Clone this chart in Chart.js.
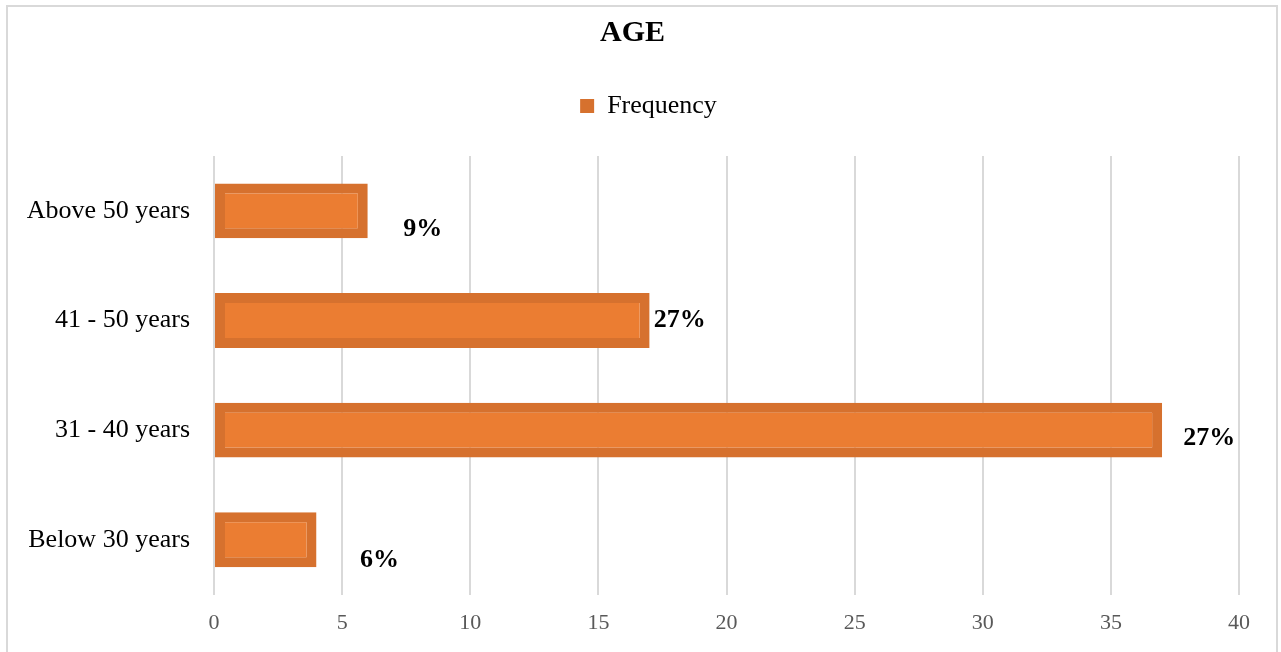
<!DOCTYPE html>
<html>
<head>
<meta charset="utf-8">
<script src="https://cdn.jsdelivr.net/npm/chart.js@4/dist/chart.umd.min.js"></script>
<style>
  html, body { margin: 0; padding: 0; background: #fff; overflow: hidden; }
  #wrap { position: relative; width: 1281px; height: 652px; }
  #frame { position: absolute; left: 6px; top: 5px; width: 1272px; height: 700px; border: 2px solid #d9d9d9; box-sizing: border-box; pointer-events: none; }
</style>
</head>
<body>
<div id="wrap">
  <canvas id="chart" width="1281" height="652"></canvas>
  <div id="frame"></div>
</div>
<script>
const categories = ['Above 50 years', '41 - 50 years', '31 - 40 years', 'Below 30 years'];
const frequency = [6, 17, 37, 4];
const percentLabels = ['9%', '27%', '27%', '6%'];
const xTicks = [0, 5, 10, 15, 20, 25, 30, 35, 40];

const fillColor = '#eb7d32';
const edgeColor = '#d6712e';
const serif = "'Liberation Serif', 'Times New Roman', serif";

// labels sit a bit off the bar ends, like in the original sheet
const labelOffsets = [[55, 18], [30, 0], [47, 8], [63, 21]];

const percentPlugin = {
  id: 'percentLabels',
  afterDatasetsDraw(chart) {
    const ctx = chart.ctx;
    const meta = chart.getDatasetMeta(0);
    ctx.save();
    ctx.font = 'bold 26px ' + serif;
    ctx.fillStyle = '#000';
    ctx.textAlign = 'center';
    ctx.textBaseline = 'middle';
    meta.data.forEach((bar, i) => {
      const off = labelOffsets[i];
      ctx.fillText(percentLabels[i], bar.x + off[0], bar.y + off[1]);
    });
    ctx.restore();
  }
};

// extra room under the legend, and nudge it a little to the right
const legendGap = {
  id: 'legendGap',
  beforeInit(chart) {
    const legend = chart.legend;
    const fit = legend.fit;
    legend.fit = function () {
      fit.bind(legend)();
      this.height += 27;
    };
    const draw = legend.draw;
    legend.draw = function () {
      const ctx = chart.ctx;
      ctx.save();
      ctx.translate(16, 0);
      draw.bind(legend)();
      ctx.restore();
    };
  }
};

new Chart(document.getElementById('chart'), {
  type: 'bar',
  data: {
    labels: categories,
    datasets: [{
      label: 'Frequency',
      data: frequency,
      backgroundColor: fillColor,
      borderColor: edgeColor,
      borderWidth: 10,
      borderSkipped: false,
      categoryPercentage: 1,
      barPercentage: 0.5,
    }],
  },
  options: {
    indexAxis: 'y',
    responsive: false,
    animation: false,
    layout: { padding: { left: 26, right: 42, top: 0, bottom: 1 } },
    scales: {
      x: {
        min: 0,
        max: 40,
        afterBuildTicks: (axis) => { axis.ticks = xTicks.map(v => ({ value: v })); },
        grid: { color: '#d9d9d9', lineWidth: 2, drawTicks: false },
        border: { display: false },
        ticks: { color: '#595959', padding: 15, font: { family: serif, size: 22 } },
      },
      y: {
        afterFit: (axis) => { axis.width = 188; },
        grid: { display: false },
        border: { display: false },
        ticks: { color: '#000', padding: 16, font: { family: serif, size: 26 } },
      },
    },
    plugins: {
      title: {
        display: true,
        text: 'AGE',
        color: '#000',
        font: { family: serif, size: 30, weight: 'bold' },
        padding: { top: 15, bottom: 22 },
      },
      legend: {
        display: true,
        labels: {
          color: '#000',
          font: { family: serif, size: 26 },
          boxWidth: 14,
          boxHeight: 14,
          padding: 20,
          generateLabels: () => [{
            text: 'Frequency',
            fillStyle: edgeColor,
            strokeStyle: edgeColor,
            lineWidth: 0,
            datasetIndex: 0,
          }],
        },
      },
      tooltip: { enabled: false },
    },
  },
  plugins: [percentPlugin, legendGap],
});
</script>
</body>
</html>
